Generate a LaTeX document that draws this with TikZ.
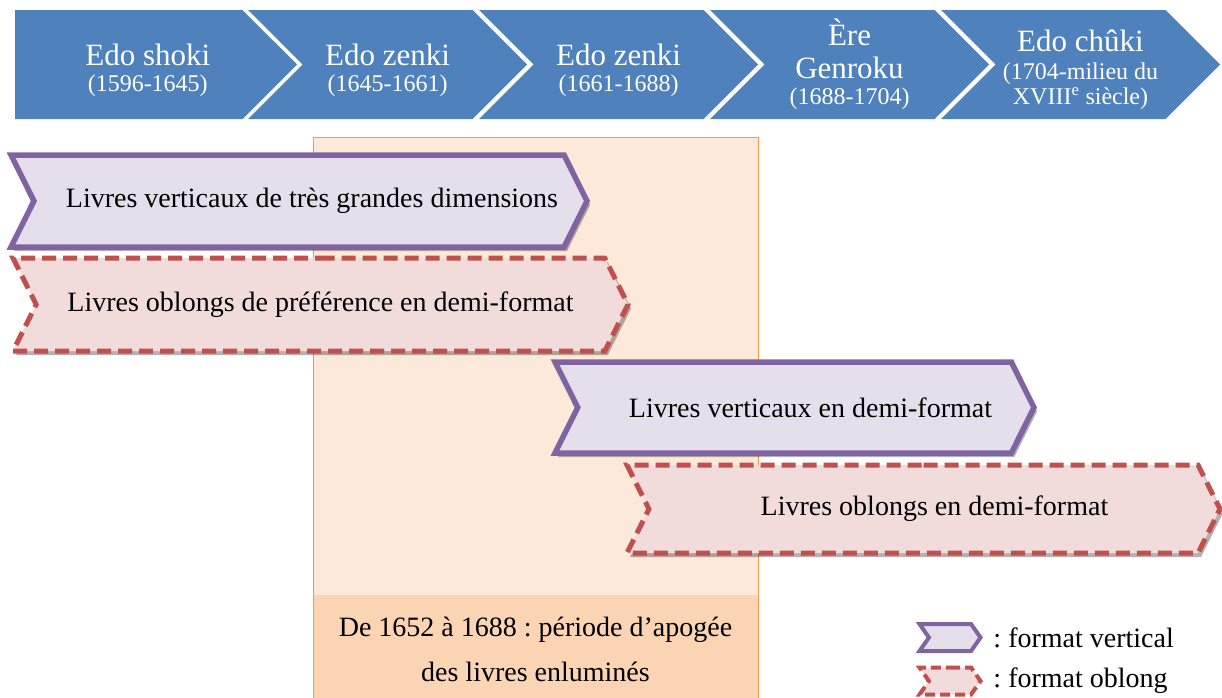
\documentclass[tikz,border=0pt]{standalone}
\usepackage{fontspec}
\setmainfont{Liberation Serif}
\frenchspacing
\usetikzlibrary{positioning, shapes.symbols, shadows}
\definecolor{edoblue}{HTML}{4F81BD}
\definecolor{vertline}{HTML}{8064A2}
\definecolor{vertfill}{HTML}{E5DFEC}
\definecolor{oblline}{HTML}{C0504D}
\definecolor{oblfill}{HTML}{F2DCDB}
\definecolor{apoline}{HTML}{F79646}
\definecolor{apofill}{HTML}{FDE9D9}
\definecolor{apodark}{HTML}{FBD4B4}
\newcommand{\erafont}{\fontsize{31}{33}\selectfont}

\begin{document}
\begin{tikzpicture}[x=1pt, y=-1pt,
    eratext/.style={text=white, align=center, inner sep=0pt, font=\fontsize{24}{26}\selectfont},
    era/.style={eratext, signal, signal to=east, signal from=west, fill=edoblue,
      minimum width=279pt, minimum height=109pt},
    fmt/.style={signal, signal to=east, signal from=west, signal pointer angle=127,
      minimum height=92pt, inner sep=0pt, font=\fontsize{28}{32}\selectfont},
    vert/.style={fmt, draw=vertline, fill=vertfill, line width=5.5pt},
    obl/.style={fmt, draw=oblline, fill=oblfill, line width=5pt, dash pattern=on 14pt off 7pt},
    lifted/.style={drop shadow={shadow xshift=3pt, shadow yshift=-4pt, fill=black, opacity=.3}},
    legend/.style={minimum width=61pt, minimum height=27pt, line width=4pt, signal pointer angle=110}]
  \useasboundingbox (0,0) rectangle (1222,697);

  % periods
  \node[era, signal from=nowhere, minimum width=282pt] (shoki) at (128.75,64.5) {};
  \node[eratext] (shokitxt) at ([xshift=19pt]shoki.center)
    {{\erafont\rule{0pt}{33pt}Edo shoki}\\(1596-1645)};
  \node[era] (zenki1) at (387.5,64.5) {{\erafont\rule{0pt}{33pt}Edo zenki}\\(1645-1661)};
  \node[era] (zenki2) at (618.5,64.5) {{\erafont\rule{0pt}{33pt}Edo zenki}\\(1661-1688)};
  \node[era] (genroku) at (849.5,64.5)
    {{\erafont Ère}\\[7pt]{\erafont Genroku}\\(1688-1704)};
  \node[era] (chuki) at (1080.5,64.5)
    {{\erafont\rule{0pt}{33pt}Edo chûki}\\[2pt](1704-milieu du\\[-1pt]XVIII\textsuperscript{e} siècle)};

  % apogee period
  \node[fill=apofill, draw=apoline, line width=1pt, minimum width=445pt, minimum height=580pt,
    anchor=north west, inner sep=0pt] (apogee) at (313,137) {};
  \node[fill=apodark, minimum width=444pt, minimum height=108pt, anchor=north, inner sep=0pt,
    align=center, font=\fontsize{28}{45}\selectfont] (apotxt) at (535.5,595)
    {De 1652 à 1688 : période d’apogée\\des livres enluminés};

  % formats
  \node[vert, lifted, minimum width=576pt] (grands) at (299,201)
    {\hspace*{26pt}Livres verticaux de très grandes dimensions};
  \node[obl, lifted, minimum width=615pt, minimum height=93pt] (oblpref) at (320.5,304.5)
    {Livres oblongs de préférence en demi-format};
  \node[vert, lifted, minimum width=479pt, minimum height=91pt] (vertdemi) at (794.5,407.5)
    {\hspace*{32pt}Livres verticaux en demi-format};
  \node[obl, lifted, minimum width=593pt, minimum height=88pt] (obldemi) at (923.5,509)
    {\hspace*{22pt}Livres oblongs en demi-format};

  % legend
  \node[vert, legend] (lgvert) at (950,637.5) {};
  \node[obl, legend, dash pattern=on 10pt off 5pt] (lgobl) at (950,681) {};
  \node[right=7pt of lgvert, font=\fontsize{28}{32}\selectfont] (lgverttxt) {: format vertical};
  \node[right=7pt of lgobl, font=\fontsize{28}{32}\selectfont] (lgobltxt) {: format oblong};
\end{tikzpicture}
\end{document}
